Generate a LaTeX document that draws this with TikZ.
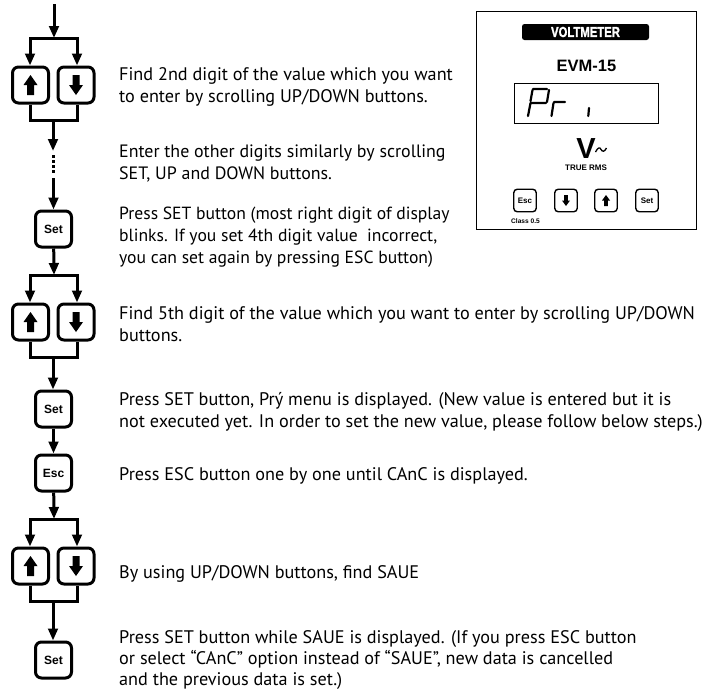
\documentclass[tikz,border=0pt]{standalone}
\usepackage{fontspec}
\setmainfont{PT Sans}
\newfontfamily\hv{Liberation Sans}
\newfontfamily\hvh[BoldFeatures={FakeBold=2}]{Liberation Sans}
\usetikzlibrary{arrows.meta}
\newcommand{\st}{\rule{0pt}{14pt}}
\tikzset{
 x=1pt,y=-1pt,
 btn/.style={draw,line width=3pt,rounded corners=6pt,minimum width=36pt,minimum height=36pt,inner sep=0pt,font=\hv\bfseries\fontsize{12}{12}\selectfont},
 small/.style={draw,line width=1.4pt,rounded corners=3.5pt,minimum width=22.5pt,minimum height=22.5pt,inner sep=0pt,font=\hv\bfseries\fontsize{8}{8}\selectfont},
 flow/.style={line width=3pt,-{Triangle[length=12pt,width=9.5pt]}},
 wire/.style={line width=3pt},
 seg/.style={line width=2.2pt,line cap=round},
 txt/.style={anchor=north west,inner sep=0pt,align=left,font=\fontsize{18.2}{22}\selectfont},
 arrowup/.pic={\fill (-3.5,10)--(3.5,10)--(3.5,0)--(7,0)--(0,-10)--(-7,0)--(-3.5,0)--cycle;},
 arrowdn/.pic={\fill (-3.5,-10)--(3.5,-10)--(3.5,0)--(7,0)--(0,10)--(-7,0)--(-3.5,0)--cycle;},
 arrowups/.pic={\fill (-1.8,5.5)--(1.8,5.5)--(1.8,0)--(4,0)--(0,-5.5)--(-4,0)--(-1.8,0)--cycle;},
 arrowdns/.pic={\fill (-1.8,-5.5)--(1.8,-5.5)--(1.8,0)--(4,0)--(0,5.5)--(-4,0)--(-1.8,0)--cycle;},
}
\newcommand{\updown}[2]{%
 \node[btn] (#1u) at (30.5,#2+19) {};
 \node[btn] (#1d) at (76,#2+19) {};
 \pic at (#1u) {arrowup};
 \pic at (#1d) {arrowdn};
 \coordinate (#1tl) at (30,#2-28);
 \coordinate (#1tr) at (77,#2-28);
 \coordinate (#1bl) at (30,#2+54);
 \coordinate (#1br) at (77,#2+54);
 \coordinate (#1bm) at (53,#2+54);
 \draw[wire,line cap=rect] (#1tl)--(#1tr);
 \draw[flow] (#1tl)--(#1u.north-|#1tl);
 \draw[flow] (#1tr)--(#1d.north-|#1tr);
 \draw[wire,line join=miter] (#1u.south-|#1bl)--(#1bl)--(#1br)--(#1d.south-|#1br);
}
\begin{document}
\begin{tikzpicture}
\useasboundingbox (0,0) rectangle (710,689);
\coordinate (start) at (54,4);
\updown{a}{66}
\draw[flow] (start)--(54,38);
\coordinate (a1) at (53,151);
\draw[flow] (abm)--(a1);
\coordinate (a2) at (53.5,155);
\coordinate (a3) at (53.5,174);
\draw[line width=2.5pt,dash pattern=on 2.5pt off 2.5pt] (a2)--(a3);
\node[btn] (s1) at (53.5,229) {Set};
\coordinate (a4) at (53.5,178);
\draw[flow] (a4)--(s1.north-|a4);
\updown{b}{303}
\draw[flow] (s1)--(54,275);
\node[btn] (s2) at (53.5,409) {Set};
\draw[flow] (bbm)--(s2.north-|bbm);
\node[btn] (e1) at (53.5,473) {Esc};
\draw[flow] (s2)--(e1);
\updown{c}{547}
\draw[flow] (e1)--(54,519);
\node[btn] (s3) at (53.5,660) {Set};
\draw[flow] (cbm)--(s3.north-|cbm);
\node[txt] (t1) at (119,66) {\st Find 2nd digit of the value which you want\\\st to enter by scrolling UP/DOWN buttons.};
\node[txt,font=\fontsize{17.9}{22}\selectfont] (t2) at (119,143) {\st Enter the other digits similarly by scrolling\\\st SET, UP and DOWN buttons.};
\node[txt,font=\fontsize{17.6}{22}\selectfont] (t3) at (119,205) {\st Press SET button (most right digit of display\\\st blinks. If you set 4th digit value\ \ incorrect,\\\st you can set again by pressing ESC button)};
\node[txt] (t4) at (119,305) {\st Find 5th digit of the value which you want to enter by scrolling UP/DOWN\\\st buttons.};
\node[txt] (t5) at (119,391) {\st Press SET button, Prý menu is displayed. (New value is entered but it is\\\st not executed yet. In order to set the new value, please follow below steps.)};
\node[txt] (t6) at (119,466) {\st Press ESC button one by one until CAnC is displayed.};
\node[txt] (t7) at (119,564) {\st By using UP/DOWN buttons, find SAUE};
\node[txt,font=\fontsize{18.2}{21}\selectfont] (t8) at (119,629) {\st Press SET button while SAUE is displayed. (If you press ESC button\\\st or select “CAnC” option instead of “SAUE”, new data is cancelled\\\st and the previous data is set.)};
% panel
\node[draw,line width=1pt,minimum width=220pt,minimum height=218pt,inner sep=0pt] (panel) at (586,120) {};
\node[fill=black,rounded corners=2.5pt,minimum width=127pt,minimum height=16pt,inner sep=0pt,text=white,font=\hvh\bfseries\fontsize{14.5}{14.5}\selectfont] (lab) at (585.5,32) {\scalebox{.78}[1]{VOLTMETER}};
\node[inner sep=0pt,font=\hv\bfseries\fontsize{16.5}{16.5}\selectfont] (mod) at (586.5,66) {EVM-15};
\node[draw,line width=1pt,minimum width=144pt,minimum height=40pt,inner sep=0pt] (disp) at (586,103) {};
\draw[seg] (528,116)--(530.5,103) (530.5,101)--(532.5,90) (533,89)--(547,89) (549,90)--(547,102) (531,103)--(546,103);
\draw[seg] (551.5,116)--(553.5,103) (554,102)--(565,102);
\draw[seg] (588.3,116)--(589,108);
\node[inner sep=0pt,font=\hv\bfseries\fontsize{29}{29}\selectfont] (v) at (586,148.5) {V};
\draw[line width=1.3pt] (595.5,152) .. controls (598,147) and (600,147) .. (601,149.5) .. controls (602.5,152) and (604.5,152) .. (606.5,148);
\node[inner sep=0pt,font=\hv\bfseries\fontsize{8}{8}\selectfont] (rms) at (586,168) {TRUE RMS};
\node[small] (se) at (525,200.5) {Esc};
\node[small] (sd) at (566,200.5) {};
\node[small] (su) at (606,200.5) {};
\node[small] (ss) at (647,200.5) {Set};
\pic at (sd) {arrowdns};
\pic at (su) {arrowups};
\node[inner sep=0pt,font=\hv\bfseries\fontsize{6.6}{6.6}\selectfont] (cl) at (525.5,221.5) {Class 0.5};
\end{tikzpicture}
\end{document}
